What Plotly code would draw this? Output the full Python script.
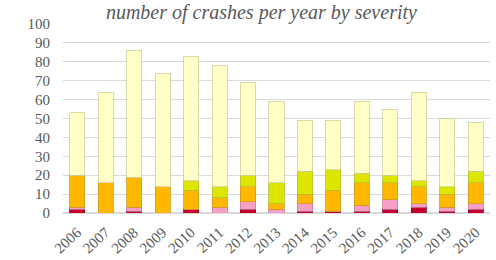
import plotly.graph_objects as go

years = ["2006","2007","2008","2009","2010","2011","2012","2013","2014","2015","2016","2017","2018","2019","2020"]
totals = [53, 64, 86, 74, 83, 78, 69, 59, 49, 49, 59, 55, 64, 50, 48]
fatal   = [2, 0, 1, 0, 2, 0, 2, 0, 1, 1, 1, 2, 3, 1, 2]
serious = [1, 0, 2, 0, 0, 3, 4, 2, 4, 0, 3, 5, 2, 2, 3]
minor   = [17, 16, 16, 14, 10, 5, 8, 3, 5, 11, 12, 9, 9, 7, 11]
light   = [0, 0, 0, 0, 5, 6, 6, 11, 12, 11, 5, 4, 3, 4, 6]
damage  = [t - (a + b + c + d) for t, a, b, c, d in zip(totals, fatal, serious, minor, light)]

series = [
    ("fatal", fatal, "#c4002c", "#8a0020"),
    ("serious", serious, "#f7a0c6", "#c77d9c"),
    ("minor", minor, "#ffb800", "#d09a20"),
    ("light", light, "#dde600", "#b7bd3a"),
    ("damage only", damage, "#ffffc6", "#cfcf9c"),
]

fig = go.Figure()
for name, vals, col, line in series:
    fig.add_trace(go.Bar(x=years, y=vals, name=name, marker_color=col,
                         marker_line_color=line, marker_line_width=0.8))

fig.update_layout(
    barmode="stack",
    bargap=0.47,
    width=496, height=260,
    margin=dict(l=63, r=6, t=24, b=47),
    paper_bgcolor="white", plot_bgcolor="white",
    showlegend=False,
    title=dict(text="<i>number of crashes per year by severity</i>",
               x=0.527, xanchor="center", y=0.955, yanchor="middle",
               font=dict(family="Liberation Serif", size=20, color="#595959")),
    font=dict(family="Liberation Serif", color="#595959"),
)
fig.update_yaxes(range=[0, 100], dtick=10, showgrid=True, gridcolor="#d9d9d9",
                 gridwidth=1, zeroline=True, zerolinecolor="#d9d9d9",
                 tickfont=dict(family="Liberation Serif", size=15, color="#595959"),
                 ticks="", ticklabelstandoff=12, automargin=False)
fig.update_xaxes(tickangle=-42, showgrid=False, showline=False, automargin=False,
                 ticklabelstandoff=7,
                 tickfont=dict(family="Liberation Serif", size=15, color="#595959"))

fig.write_html("out.html", config={"displayModeBar": False},
               post_script="document.body.style.margin='0px';")
